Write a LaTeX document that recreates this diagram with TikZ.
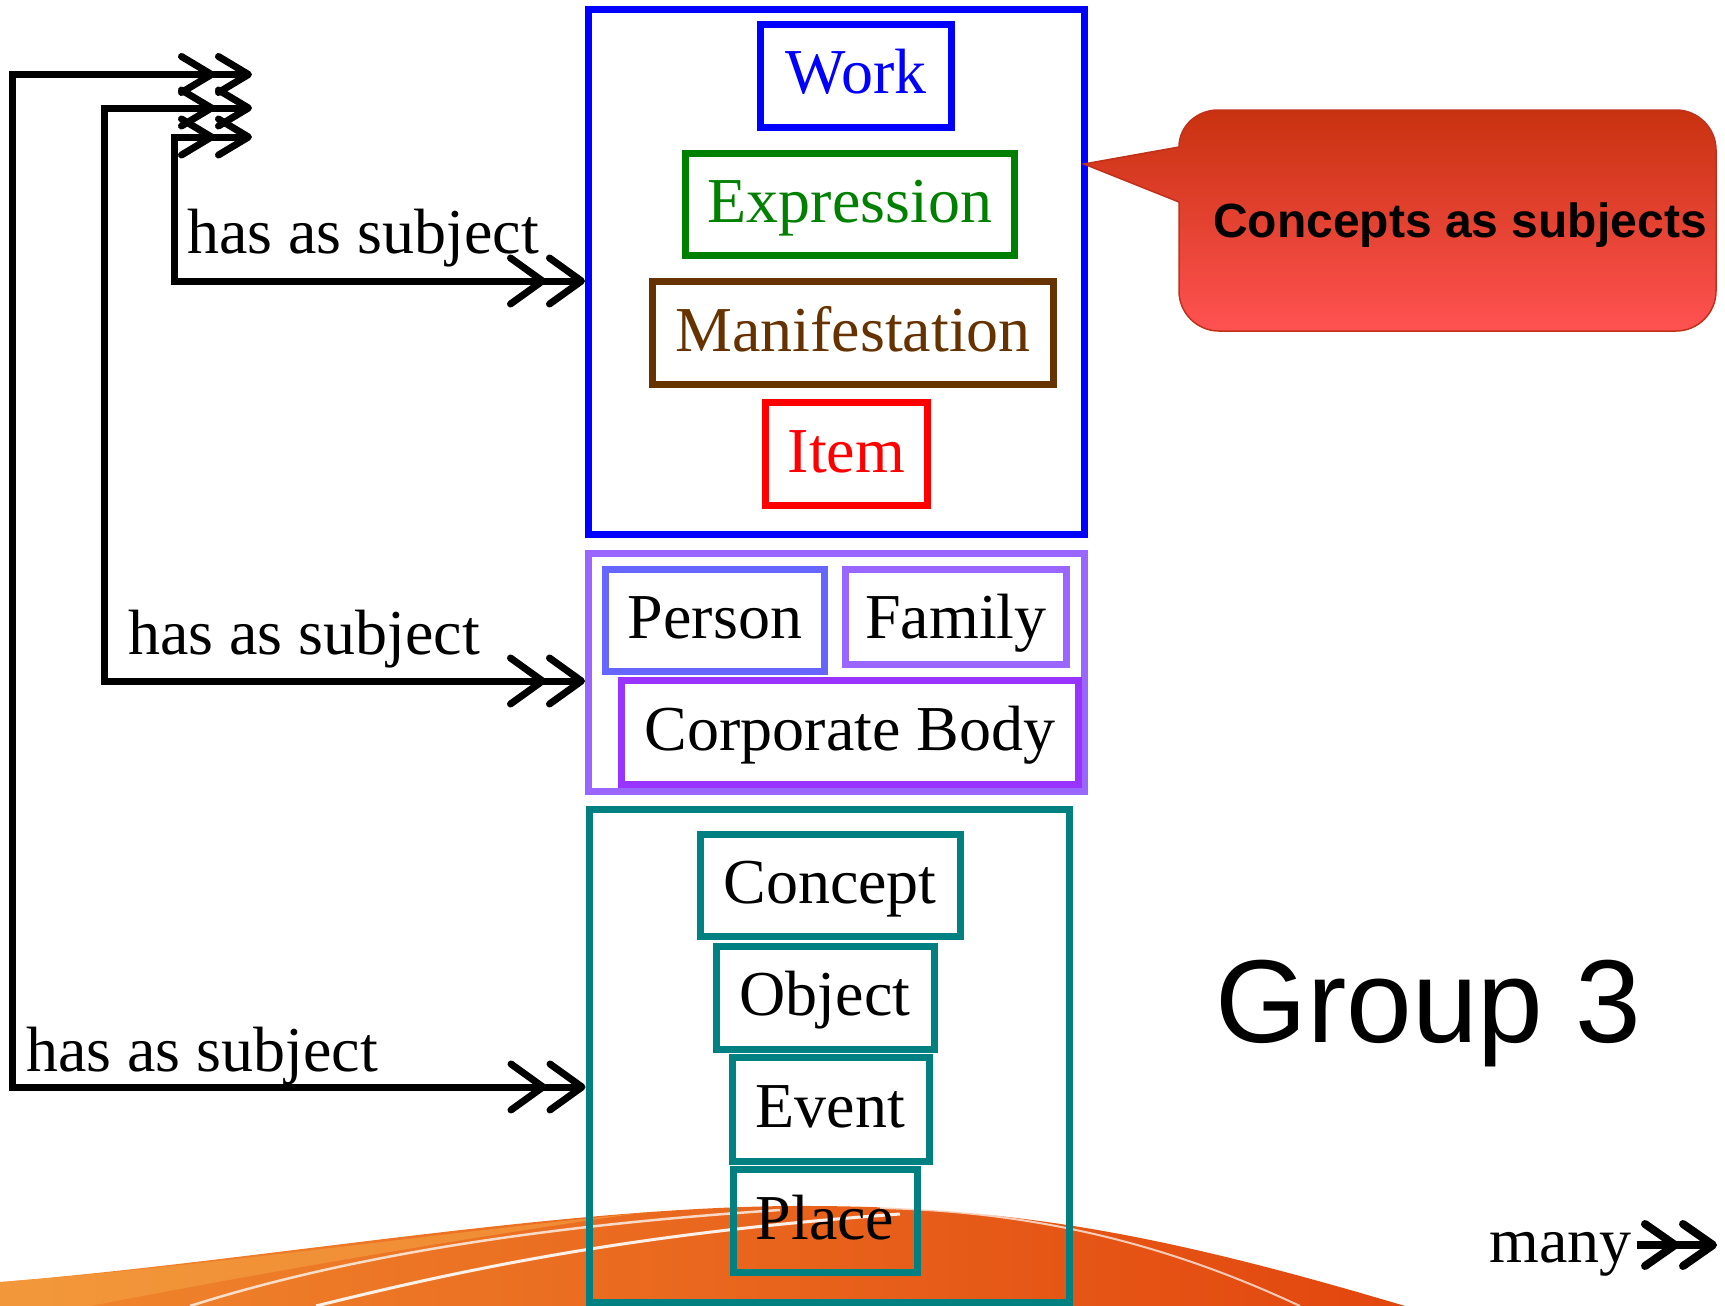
\documentclass[tikz,border=0pt]{standalone}
\usepackage{fontspec}
\setmainfont{Liberation Serif}
\newfontfamily\sansf{Liberation Sans}
\usetikzlibrary{arrows.meta}
\definecolor{tealc}{HTML}{008080}
\definecolor{brownc}{HTML}{663300}
\definecolor{greenc}{HTML}{008000}
\definecolor{persc}{HTML}{6666FF}
\definecolor{famc}{HTML}{9966FF}
\definecolor{corpc}{HTML}{9933FF}
\definecolor{calTop}{HTML}{C8320F}
\definecolor{calBot}{HTML}{FF5252}
\definecolor{calLine}{HTML}{C0301A}
\definecolor{orL}{HTML}{F0882E}
\definecolor{orM}{HTML}{E8640C}
\definecolor{orR}{HTML}{E2460E}
\definecolor{orLight}{HTML}{F5A545}
\begin{document}
\begin{tikzpicture}[x=1pt,y=-1pt,
  ent/.style={draw, line width=7pt, inner sep=0pt, minimum height=103pt,
    font=\fontsize{64}{70}\selectfont, text height=48pt, text depth=12pt},
  grp/.style={draw, line width=7pt, inner sep=0pt},
  lbl/.style={font=\fontsize{64}{70}\selectfont, anchor=base west, inner sep=0pt},
  conn/.style={line width=7pt,
    {Straight Barb[length=30pt,width=36pt,round] Straight Barb[length=30pt,width=36pt,round]}-{Straight Barb[length=32pt,width=46pt,round] Straight Barb[length=32pt,width=46pt,round]}},
  manyarrow/.style={line width=8pt,
    -{Straight Barb[length=30pt,width=42pt,round] Straight Barb[length=30pt,width=42pt,round]}}
]
\useasboundingbox (0,0) rectangle (1725,1306);

% decorative orange swoosh
\shade[left color=orL, middle color=orM, right color=orR]
  (0,1282) .. controls (250,1262) and (550,1208) .. (790,1206)
  .. controls (1000,1205) and (1150,1230) .. (1405,1306) -- (0,1306) -- cycle;
\fill[orLight, opacity=0.55]
  (0,1282) .. controls (200,1267) and (420,1235) .. (640,1213)
  .. controls (450,1240) and (250,1275) .. (90,1306) -- (0,1306) -- cycle;
\draw[white, opacity=0.75, line width=2.5pt]
  (190,1306) .. controls (350,1255) and (550,1225) .. (780,1210);
\draw[white, opacity=0.9, line width=3pt]
  (316,1306) .. controls (480,1265) and (650,1232) .. (900,1214);
\draw[white, opacity=0.7, line width=2pt]
  (880,1208) .. controls (1050,1212) and (1180,1250) .. (1300,1306);

% group boxes
\node[grp, draw=blue, minimum width=496pt, minimum height=525pt] (grpA) at (836.5,272) {};
\node[grp, draw=famc, minimum width=496pt, minimum height=238pt] (grpB) at (836.5,672.5) {};
\node[grp, draw=tealc, minimum width=480pt, minimum height=493pt] (grpC) at (829,1055.5) {};

% group 1 entities
\node[ent, draw=blue, text=blue, minimum width=191pt] (work) at (856,76) {Work};
\node[ent, draw=greenc, text=greenc, minimum width=329pt, minimum height=102pt] (expr) at (850,204.5) {Expression};
\node[ent, draw=brownc, text=brownc, minimum width=401pt] (mani) at (853,333) {Manifestation};
\node[ent, draw=red, text=red, minimum width=162pt] (item) at (846.5,454) {Item};

% group 2 entities
\node[ent, draw=persc, minimum width=219pt, minimum height=102pt] (pers) at (715,620.5) {Person};
\node[ent, draw=famc, minimum width=221pt, minimum height=95pt, text depth=6pt] (fam) at (956,617) {Family};
\node[ent, draw=corpc, minimum width=457pt, minimum height=104pt] (corp) at (850,732.5) {Corporate Body};

% group 3 entities
\node[ent, draw=tealc, minimum width=260pt, minimum height=102pt] (conc) at (830,885.5) {Concept};
\node[ent, draw=tealc, minimum width=218pt] (obj) at (825,997.5) {Object};
\node[ent, draw=tealc, minimum width=197pt, minimum height=104pt] (evt) at (830.5,1109) {Event};
\node[ent, draw=tealc, minimum width=184pt, minimum height=102.5pt] (plc) at (825,1221) {Place};

% connectors
\coordinate (tA) at (252,137);
\coordinate (kA1) at (174,137);
\coordinate (kA2) at (174,281);
\draw[conn] (tA) -- (kA1) -- (kA2) -- (kA2 -| grpA.west);

\coordinate (tB) at (252,108);
\coordinate (kB1) at (104,108);
\coordinate (kB2) at (104,681);
\draw[conn] (tB) -- (kB1) -- (kB2) -- (kB2 -| grpB.west);

\coordinate (tC) at (252,74.5);
\coordinate (kC1) at (12,74.5);
\coordinate (kC2) at (12,1087);
\draw[conn] (tC) -- (kC1) -- (kC2) -- (kC2 -| grpC.west);

% labels
\node[lbl] (lblA) at (187,253) {has as subject};
\node[lbl] (lblB) at (128,654) {has as subject};
\node[lbl] (lblC) at (26,1071) {has as subject};

% callout
\shade[top color=calTop, bottom color=calBot, draw=calLine, line width=1.5pt]
  (1084,164) -- (1179,147)
  .. controls (1179,126) and (1197,110) .. (1218,110)
  -- (1676,110) .. controls (1698,110) and (1716,128) .. (1716,150)
  -- (1716,291) .. controls (1716,313) and (1698,331) .. (1676,331)
  -- (1219,331) .. controls (1197,331) and (1179,313) .. (1179,291)
  -- (1179,202) -- cycle;
\node[font=\sansf\bfseries\fontsize{48}{50}\selectfont, anchor=base, inner sep=0pt] (callt) at (1460,237) {Concepts as subjects};

% Group 3
\node[font=\sansf\fontsize{118}{120}\selectfont, anchor=base, inner sep=0pt] (g3) at (1428.5,1042) {Group 3};

% many legend
\node[lbl] (many) at (1489,1262) {many};
\coordinate (mA) at (1637,1245);
\coordinate (mB) at (1717,1245);
\draw[manyarrow] (mA) -- (mB);
\end{tikzpicture}
\end{document}
